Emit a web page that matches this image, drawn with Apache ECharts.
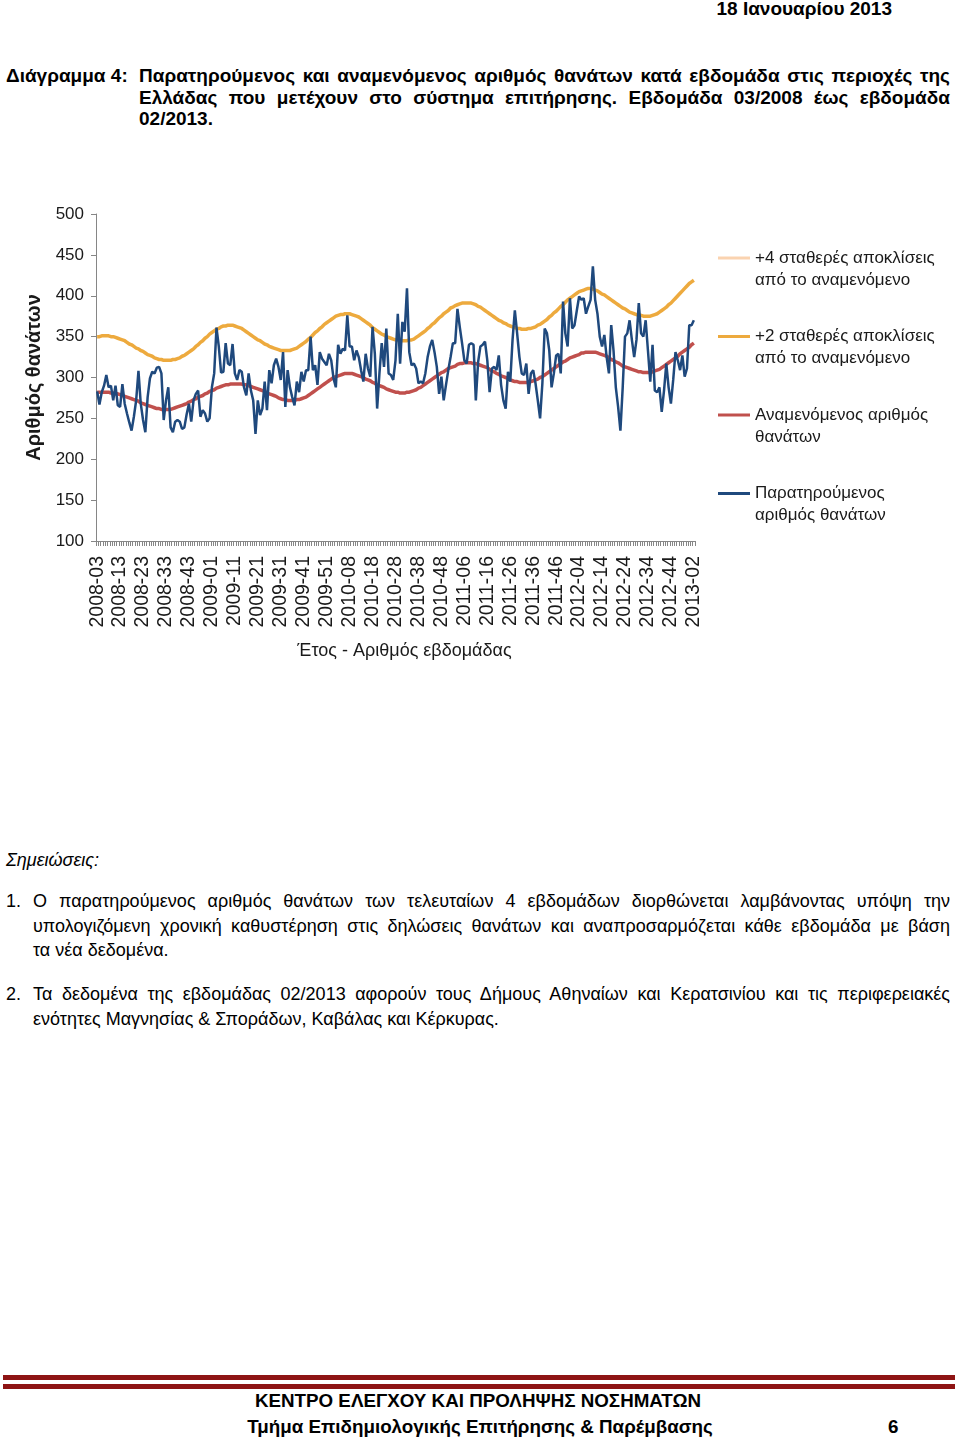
<!DOCTYPE html>
<html>
<head>
<meta charset="utf-8">
<script src="https://cdn.jsdelivr.net/npm/echarts@6/dist/echarts.min.js"></script>
<style>
  html, body { margin:0; padding:0; background:#fff; }
  body { width:960px; height:1439px; position:relative; overflow:hidden; font-family:"Liberation Sans", Arial, sans-serif; color:#000; }
  .abs { position:absolute; white-space:nowrap; }
  .b { font-weight:bold; }
  .just { text-align:justify; text-align-last:justify; }
  #chart { position:absolute; left:0; top:180px; width:960px; height:500px; }
  .note { font-size:18px; line-height:24.5px; }
  .title { font-size:19px; line-height:21.5px; font-weight:bold; }
  .foot { font-size:18.8px; line-height:24px; font-weight:bold; }
  .rule { position:absolute; left:3px; width:952px; background:#8e1414; }
</style>
</head>
<body>
<div class="abs b" style="left:600px; width:292px; top:-3px; text-align:right; font-size:19px; line-height:24px;">18 Ιανουαρίου 2013</div>

<div class="abs title" style="left:6px; top:65px;">Διάγραμμα 4:</div>
<div class="abs title just" style="left:139px; width:811px; top:65px;">Παρατηρούμενος και αναμενόμενος αριθμός θανάτων κατά εβδομάδα στις περιοχές της</div>
<div class="abs title just" style="left:139px; width:811px; top:86.5px;">Ελλάδας που μετέχουν στο σύστημα επιτήρησης. Εβδομάδα 03/2008 έως εβδομάδα</div>
<div class="abs title" style="left:139px; top:108px;">02/2013.</div>

<div id="chart"></div>

<div class="abs note" style="left:6px; top:848px; font-style:italic;">Σημειώσεις:</div>
<div class="abs note" style="left:6px; top:889px;">1.</div>
<div class="abs note just" style="left:33px; width:917px; top:889px;">Ο παρατηρούμενος αριθμός θανάτων των τελευταίων 4 εβδομάδων διορθώνεται λαμβάνοντας υπόψη την</div>
<div class="abs note just" style="left:33px; width:917px; top:913.5px;">υπολογιζόμενη χρονική καθυστέρηση στις δηλώσεις θανάτων και αναπροσαρμόζεται κάθε εβδομάδα με βάση</div>
<div class="abs note" style="left:33px; top:938px;">τα νέα δεδομένα.</div>
<div class="abs note" style="left:6px; top:982px;">2.</div>
<div class="abs note just" style="left:33px; width:917px; top:982px;">Τα δεδομένα της εβδομάδας 02/2013 αφορούν τους Δήμους Αθηναίων και Κερατσινίου και τις περιφερειακές</div>
<div class="abs note" style="left:33px; top:1006.5px;">ενότητες Μαγνησίας &amp; Σποράδων, Καβάλας και Κέρκυρας.</div>

<div class="rule" style="top:1375px; height:5px;"></div>
<div class="rule" style="top:1384px; height:5px;"></div>
<div class="abs foot" style="left:0; width:956px; top:1389px; text-align:center;">ΚΕΝΤΡΟ ΕΛΕΓΧΟΥ ΚΑΙ ΠΡΟΛΗΨΗΣ ΝΟΣΗΜΑΤΩΝ</div>
<div class="abs foot" style="left:0; width:960px; top:1415px; text-align:center;">Τμήμα Επιδημιολογικής Επιτήρησης &amp; Παρέμβασης</div>
<div class="abs foot" style="left:888px; top:1415px;">6</div>

<script>
// ---- categories: ISO weeks 2008-03 .. 2013-02 ----
const startYear = 2008;
const startWeek = 3;
const weeksPerYear = {2008: 52, 2009: 53, 2010: 52, 2011: 52, 2012: 52, 2013: 52};
const numWeeks = 261;

// ---- series values ----
const observed = [
  283,267,282,290,303,288,290,272,290,266,
  264,292,268,256,245,235,252,272,308,268,
  248,233,276,299,307,305,312,313,305,248,
  272,288,239,233,246,248,246,237,239,255,
  268,246,272,280,284,252,260,256,246,250,
  288,305,361,338,306,307,342,317,315,341,
  305,297,309,307,288,278,305,284,272,231,
  272,254,262,295,260,309,293,315,323,313,
  297,331,264,309,288,276,266,295,282,307,
  295,309,309,350,309,315,291,331,323,319,
  315,329,321,299,288,340,329,335,333,376,
  338,338,321,333,325,309,295,329,311,301,
  362,329,262,305,342,313,360,305,303,297,
  321,378,317,368,356,409,331,315,317,311,
  293,295,293,305,325,338,346,331,313,280,
  301,272,291,309,325,342,342,384,362,342,
  321,317,340,342,340,272,319,338,340,344,
  321,282,311,313,309,327,291,272,262,307,
  295,346,382,354,325,305,303,317,280,305,
  309,293,272,250,293,360,354,333,288,305,
  327,329,305,393,354,338,397,360,364,382,
  399,395,397,378,387,395,436,395,378,350,
  338,352,325,305,364,333,288,264,235,288,
  350,354,370,346,325,346,391,354,350,370,
  333,295,340,284,282,288,258,284,317,288,
  268,297,331,321,309,327,301,311,364,364,
  370
];

const expected = [
  282,282,282,282,282,282,281,281,280,280,
  279,278,277,276,275,274,273,272,271,269,
  268,267,266,265,264,263,262,262,261,261,
  261,261,261,262,263,264,265,266,267,268,
  270,271,273,274,276,277,278,280,281,283,
  284,285,287,288,289,290,291,291,292,292,
  292,292,292,292,291,291,290,289,288,287,
  286,285,284,283,281,280,279,278,277,275,
  274,273,273,272,272,272,272,273,273,274,
  275,276,278,280,282,284,286,288,290,292,
  294,296,298,300,301,302,303,304,305,305,
  305,305,304,303,302,301,300,298,297,296,
  294,293,291,290,289,288,286,285,284,283,
  282,282,281,281,281,282,282,283,284,285,
  287,288,290,292,294,296,298,300,302,304,
  306,307,309,311,312,313,314,316,317,317,
  318,318,318,318,317,317,316,315,314,313,
  312,310,308,307,305,304,302,301,300,299,
  297,296,295,295,294,294,294,294,294,295,
  296,297,298,300,301,303,305,307,309,311,
  313,315,317,319,320,322,324,325,326,327,
  328,330,330,331,331,331,331,331,330,329,
  328,327,326,324,322,321,319,318,316,314,
  313,312,311,310,309,308,307,307,306,306,
  306,306,307,308,309,310,312,314,316,318,
  320,322,324,326,329,331,333,335,337,340,
  342
];

const upper2sd = [
  350,350,351,351,351,351,350,350,349,348,
  347,346,345,343,341,340,338,336,335,333,
  332,330,328,327,326,324,323,322,322,321,
  321,321,321,322,322,323,324,326,327,329,
  331,333,335,338,340,343,345,348,350,353,
  355,357,359,360,362,363,363,364,364,364,
  363,362,361,360,358,356,354,352,350,348,
  346,345,343,341,340,338,337,336,335,334,
  333,333,333,333,333,334,335,336,338,340,
  342,344,347,349,352,355,357,360,362,365,
  367,369,371,373,375,376,377,377,378,378,
  378,377,376,375,374,372,370,368,366,364,
  361,359,357,355,353,352,350,349,348,347,
  346,346,345,345,345,345,346,346,347,349,
  351,353,355,357,360,362,365,367,370,373,
  375,378,380,382,385,386,388,389,390,391,
  391,391,391,391,390,389,387,386,384,382,
  380,378,376,374,372,370,369,367,366,364,
  363,362,361,360,360,359,359,359,360,360,
  361,362,364,365,367,369,371,374,376,379,
  381,384,387,389,392,395,397,399,401,403,
  405,406,407,408,409,409,408,407,406,404,
  402,401,399,397,395,393,391,389,387,385,
  384,382,380,379,378,377,376,376,375,375,
  375,375,376,377,378,380,382,384,386,389,
  391,394,397,400,403,406,409,412,415,417,
  419
];

const upper4sd = []; // not drawn inside the plot area in the reference

const seriesNames = [
  '+4 σταθερές αποκλίσεις\nαπό το αναμενόμενο',
  '+2 σταθερές αποκλίσεις\nαπό το αναμενόμενο',
  'Αναμενόμενος αριθμός\nθανάτων',
  'Παρατηρούμενος\nαριθμός θανάτων'
];
const yTicks = {min: 100, max: 500, interval: 50};

// build week labels
const weekLabels = [];
{
  let y = startYear, w = startWeek;
  for (let i = 0; i < numWeeks; i++) {
    weekLabels.push(y + '-' + String(w).padStart(2, '0'));
    w++;
    if (w > weeksPerYear[y]) { w = 1; y++; }
  }
}

const FONT = '"Liberation Sans", Arial, sans-serif';
const AXIS_GRAY = '#868686';
const TXT = '#1a1a1a';

const chart = echarts.init(document.getElementById('chart'), null, {renderer: 'canvas'});
chart.setOption({
  animation: false,
  backgroundColor: '#fff',
  grid: {left: 96, right: 265, top: 34, bottom: 139, containLabel: false},
  legend: {
    orient: 'vertical',
    left: 718,
    top: 45,
    padding: 0,
    itemGap: 12.5,
    itemWidth: 32,
    itemHeight: 3,
    icon: 'rect',
    selectedMode: false,
    data: seriesNames,
    formatter: function (name) { return '\n' + name; },
    textStyle: {fontFamily: FONT, fontSize: 17, lineHeight: 22, color: TXT}
  },
  xAxis: {
    type: 'category',
    data: weekLabels,
    boundaryGap: true,
    name: 'Έτος - Αριθμός εβδομάδας',
    nameLocation: 'middle',
    nameGap: 101,
    nameTextStyle: {fontFamily: FONT, fontSize: 18, color: TXT, padding: [0, 0, 0, 18]},
    axisLine: {show: true, lineStyle: {color: AXIS_GRAY, width: 1}},
    axisTick: {show: true, interval: 0, length: 5, lineStyle: {color: AXIS_GRAY}},
    axisLabel: {interval: 9, rotate: 90, margin: 15, fontFamily: FONT, fontSize: 19.5, color: TXT},
    splitLine: {show: false}
  },
  yAxis: {
    type: 'value',
    min: yTicks.min,
    max: yTicks.max,
    interval: yTicks.interval,
    name: 'Αριθμός θανάτων',
    nameLocation: 'middle',
    nameRotate: 90,
    nameGap: 52,
    nameTextStyle: {fontFamily: FONT, fontSize: 20, fontWeight: 'bold', color: TXT},
    axisLine: {show: true, lineStyle: {color: AXIS_GRAY, width: 1}},
    axisTick: {show: true, length: 5, lineStyle: {color: AXIS_GRAY}},
    axisLabel: {margin: 12, fontFamily: FONT, fontSize: 17, color: TXT},
    splitLine: {show: false}
  },
  series: [
    {name: seriesNames[0], type: 'line', data: upper4sd, symbol: 'none',
     itemStyle: {color: '#FAD3B0'}, lineStyle: {color: '#FAD3B0', width: 3.5}},
    {name: seriesNames[1], type: 'line', data: upper2sd, symbol: 'none',
     itemStyle: {color: '#EDAA3E'}, lineStyle: {color: '#EDAA3E', width: 3.5}},
    {name: seriesNames[2], type: 'line', data: expected, symbol: 'none',
     itemStyle: {color: '#C0504D'}, lineStyle: {color: '#C0504D', width: 3.5}},
    {name: seriesNames[3], type: 'line', data: observed, symbol: 'none',
     itemStyle: {color: '#1F497D'}, lineStyle: {color: '#1F497D', width: 2.5}}
  ]
});
</script>
</body>
</html>
